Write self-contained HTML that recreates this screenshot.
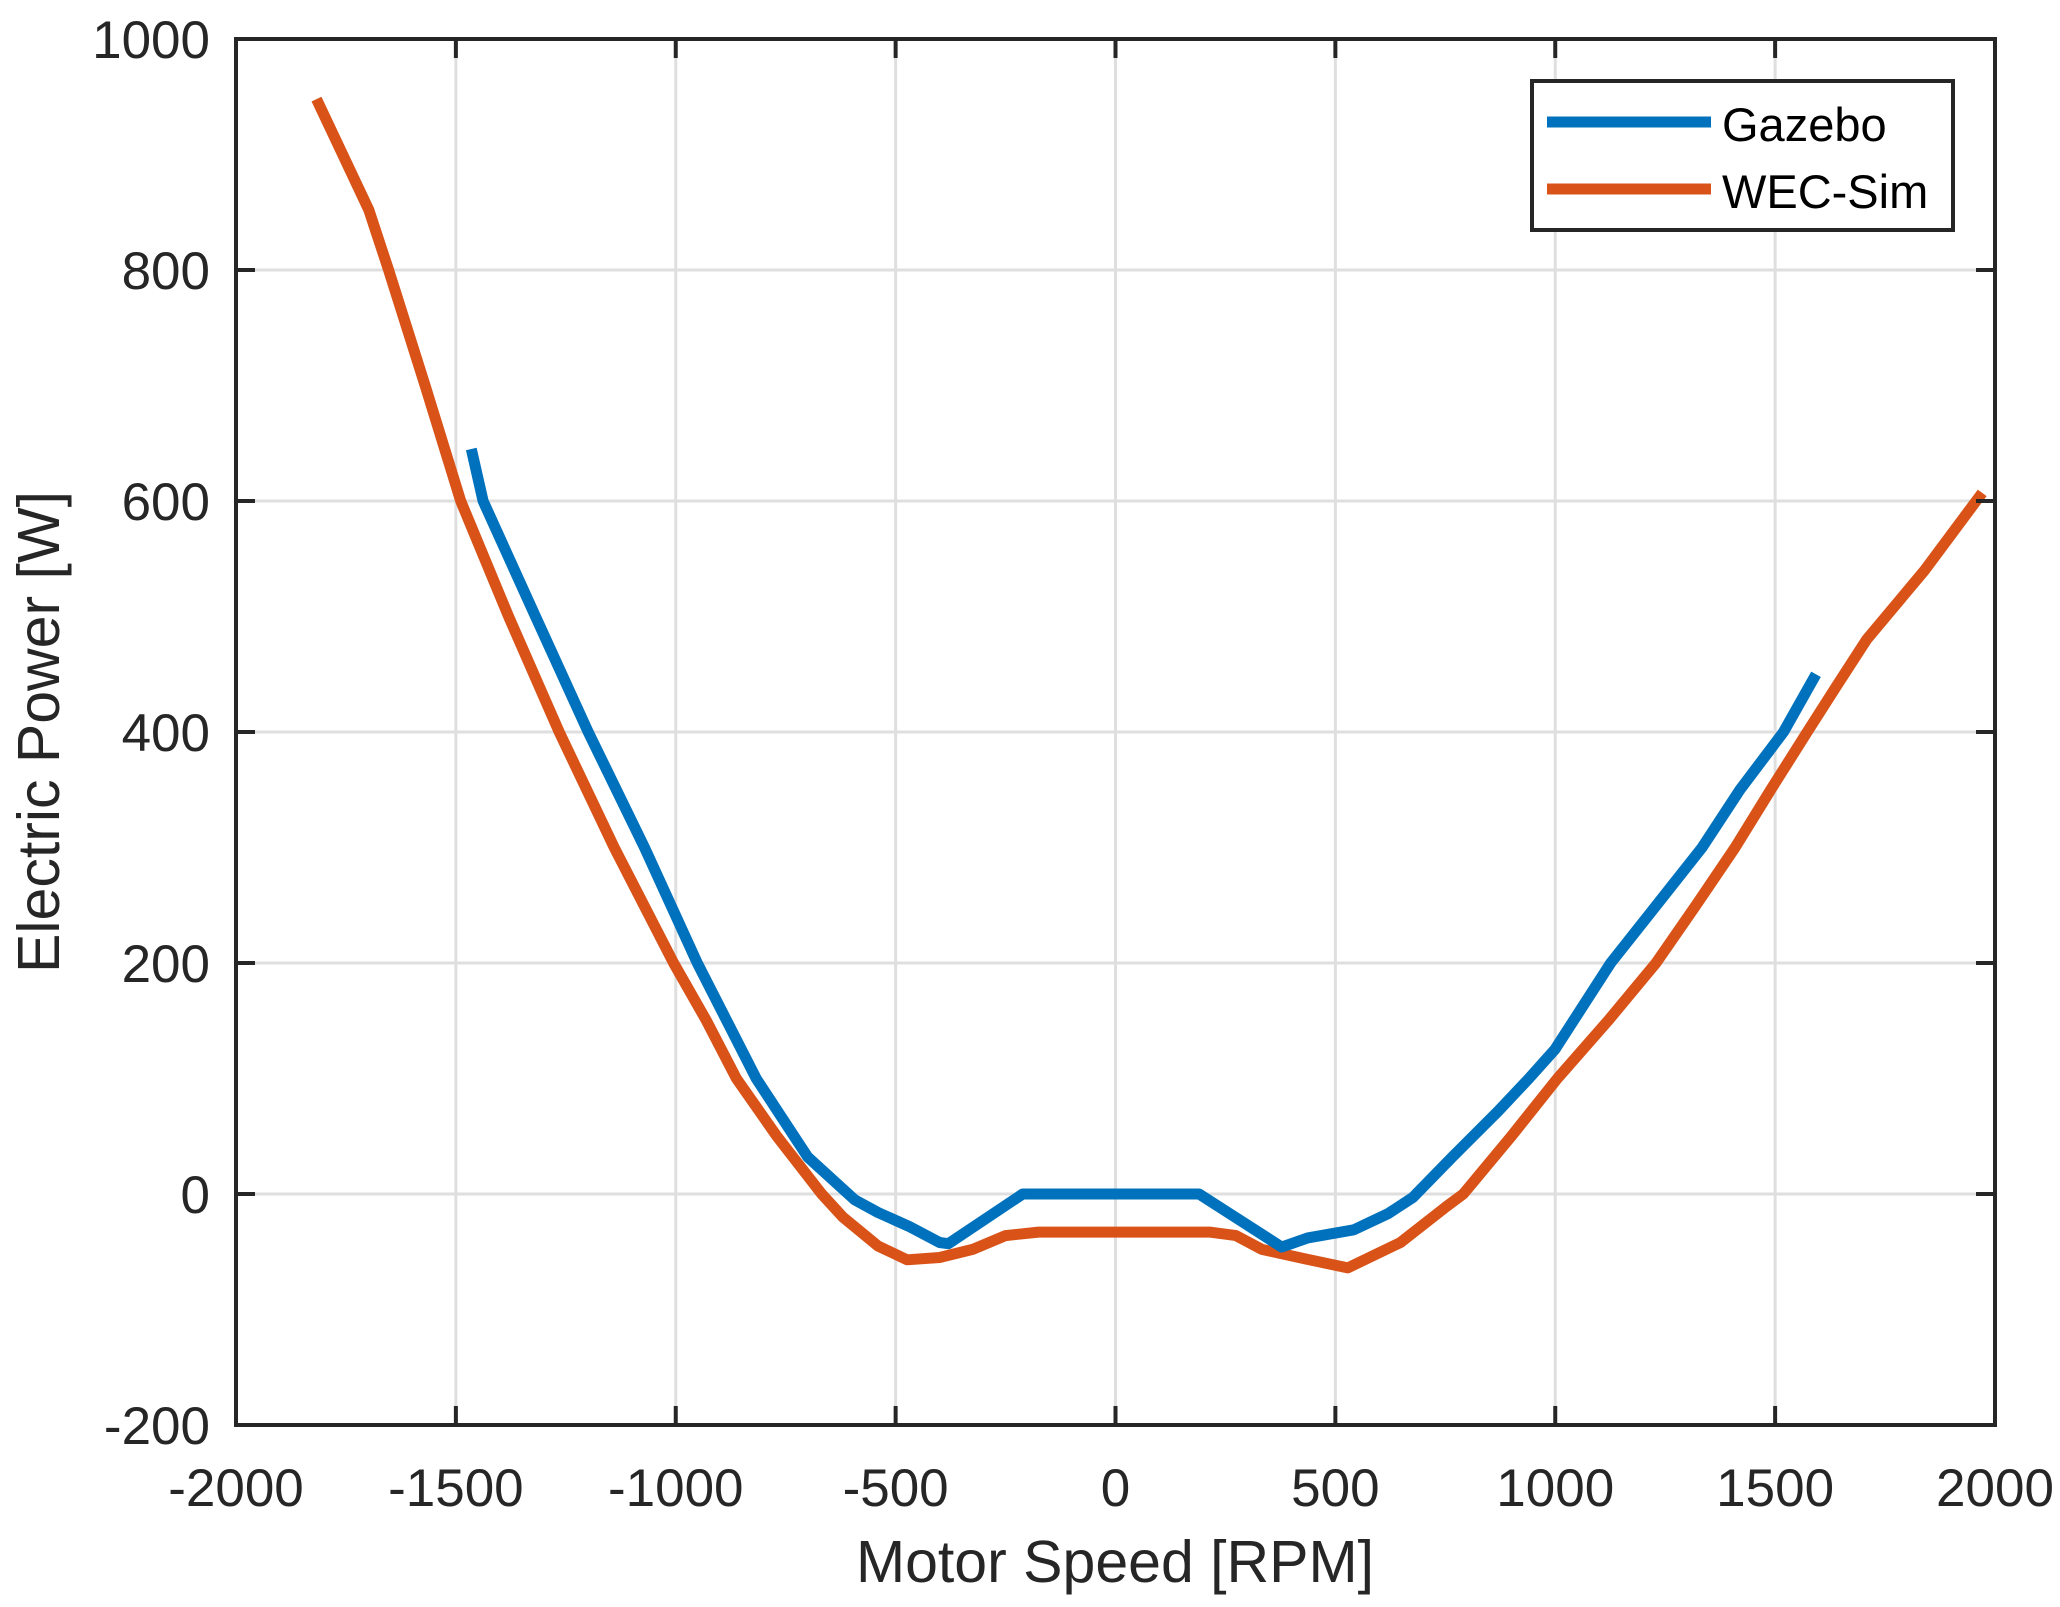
<!DOCTYPE html>
<html><head><meta charset="utf-8"><style>
html,body{margin:0;padding:0;background:#fff;}
svg{display:block;font-family:"Liberation Sans",sans-serif;}
</style></head><body>
<svg id="chart" width="2060" height="1607" viewBox="0 0 2060 1607" xmlns="http://www.w3.org/2000/svg">
<rect width="2060" height="1607" fill="#fff"/>
<g id="grid"></g>
<g id="series"></g>
<g id="axes"></g>
<text x="1115" y="1582" font-size="59" text-anchor="middle" fill="#262626">Motor Speed [RPM]</text>
<text transform="translate(59,732) rotate(-90)" font-size="59" text-anchor="middle" fill="#262626">Electric Power [W]</text>
<g>
<rect x="1532" y="81" width="421" height="149" fill="#fff" stroke="#262626" stroke-width="4"/>
<line x1="1547" y1="122" x2="1711" y2="122" stroke="#0072BD" stroke-width="11"/>
<text x="1722" y="141" font-size="47" fill="#000">Gazebo</text>
<line x1="1547" y1="189" x2="1711" y2="189" stroke="#D95319" stroke-width="11"/>
<text x="1722" y="208" font-size="47" fill="#000">WEC-Sim</text>
</g>
</svg>
<script>
const xTicks = [-2000,-1500,-1000,-500,0,500,1000,1500,2000];
const yTicks = [-200,0,200,400,600,800,1000];
const gazeboSpeed = [-1465,-1438,-1319,-1199,-1071,-951,-817,-700,-593,-540,-470,-400,-380,-211,190,378,437,542,620,676,766,871,940,999,1126,1230,1334,1420,1519,1593];
const gazeboPower = [645,600,500,400,300,200,100,32,-5,-16,-28,-42,-43,0,0,-46,-38,-31,-17,-3,32,72,100,125,200,250,300,350,400,450];
const wecSpeed = [-1817,-1698,-1653,-1570,-1489,-1380,-1265,-1140,-1005,-930,-862,-770,-668,-620,-540,-474,-400,-325,-250,-175,214,274,333,430,528,648,752,791,900,1005,1120,1229,1320,1409,1490,1573,1640,1708,1840,1971];
const wecPower = [948,852,800,700,600,500,400,300,200,150,100,50,0,-20,-45,-57,-55,-48,-36,-33,-33,-36,-48,-56,-64,-42,-11,0,50,100,150,200,250,300,350,400,440,480,540,607];
const L=236,R=1995,T=39,B=1425;
const sx=v=>L+(v+2000)/4000*(R-L);
const sy=v=>B-(v+200)/1200*(B-T);
const NS='http://www.w3.org/2000/svg';
function mk(tag,attrs,parent){const e=document.createElementNS(NS,tag);for(const k in attrs)e.setAttribute(k,attrs[k]);parent.appendChild(e);return e;}
const grid=document.getElementById('grid'),axes=document.getElementById('axes'),series=document.getElementById('series');
xTicks.forEach(t=>{
  const g=mk('line',{x1:sx(t),x2:sx(t),y1:T,y2:B,stroke:'#dfdfdf','stroke-width':3},grid);
  
  
  const a=mk('line',{x1:sx(t),x2:sx(t),y1:B,y2:B-19,stroke:'#262626','stroke-width':4},axes);
  
  
  const b=mk('line',{x1:sx(t),x2:sx(t),y1:T,y2:T+19,stroke:'#262626','stroke-width':4},axes);
  
  
  const tx=mk('text',{x:sx(t),y:1506,'font-size':53,'text-anchor':'middle',fill:'#262626'},axes);
  tx.textContent=t;
  
  
});
yTicks.forEach(t=>{
  const g=mk('line',{x1:L,x2:R,y1:sy(t),y2:sy(t),stroke:'#dfdfdf','stroke-width':3},grid);
  
  
  const a=mk('line',{x1:L,x2:L+19,y1:sy(t),y2:sy(t),stroke:'#262626','stroke-width':4},axes);
  
  
  const b=mk('line',{x1:R,x2:R-19,y1:sy(t),y2:sy(t),stroke:'#262626','stroke-width':4},axes);
  
  
  const tx=mk('text',{x:210,y:sy(t)+19,'font-size':53,'text-anchor':'end',fill:'#262626'},axes);
  tx.textContent=t;
  
  
});
const box=mk('rect',{x:L,y:T,width:R-L,height:B-T,fill:'none',stroke:'#262626','stroke-width':4},axes);


function path(xs,ys){return xs.map((x,i)=>(i?'L':'M')+sx(x).toFixed(1)+','+sy(ys[i]).toFixed(1)).join('');}
const w=mk('path',{d:path(wecSpeed,wecPower),fill:'none',stroke:'#D95319','stroke-width':11,'stroke-linejoin':'round'},series);


const g=mk('path',{d:path(gazeboSpeed,gazeboPower),fill:'none',stroke:'#0072BD','stroke-width':11,'stroke-linejoin':'round'},series);


</script>
</body></html>
